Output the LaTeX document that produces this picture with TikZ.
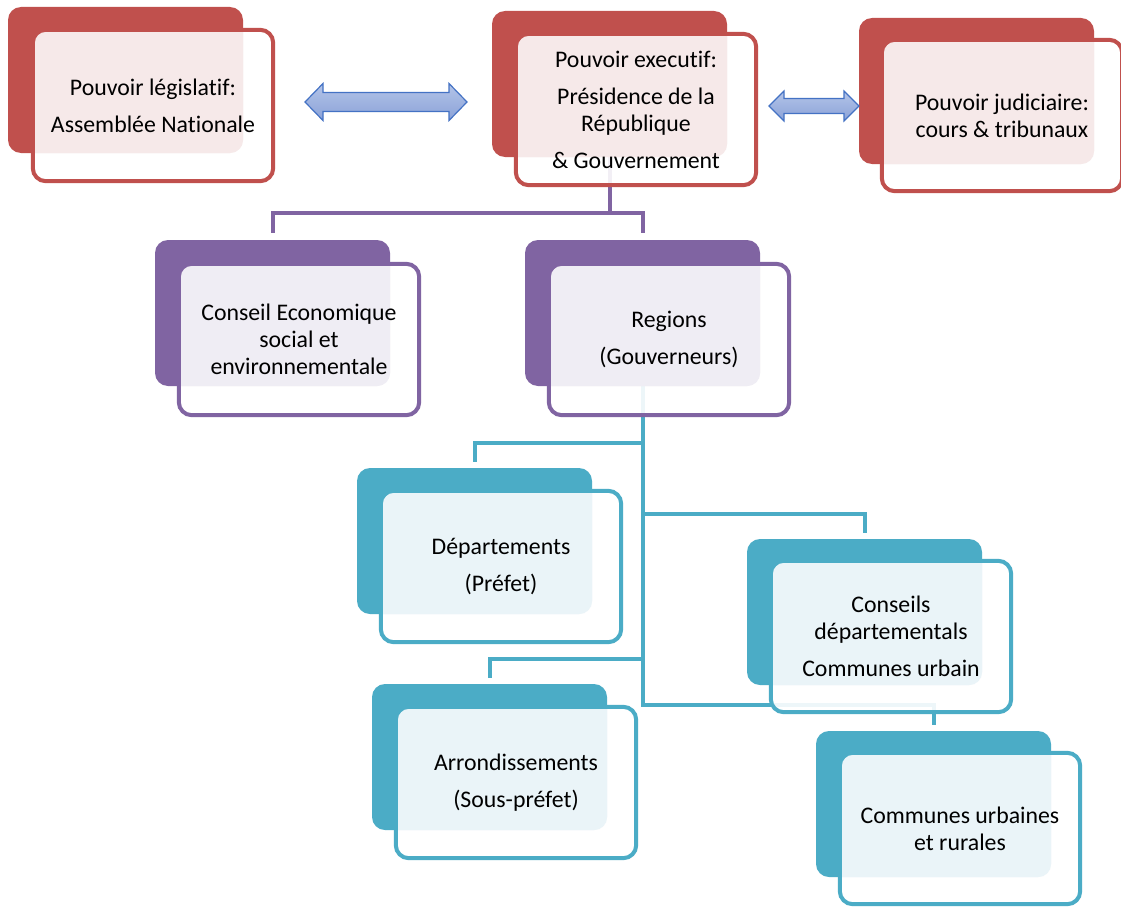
\documentclass[tikz,border=0pt]{standalone}
\usepackage{fontspec}
\setmainfont[Ligatures=NoCommon]{Carlito}
\usetikzlibrary{backgrounds}
\definecolor{cred}{HTML}{C0504D}
\definecolor{tred}{HTML}{F6E9E9}
\definecolor{cpur}{HTML}{8064A2}
\definecolor{tpur}{HTML}{EFEDF4}
\definecolor{ctea}{HTML}{4BACC6}
\definecolor{ttea}{HTML}{EAF4F8}
\definecolor{aline}{HTML}{4472C4}
\definecolor{atop}{HTML}{B3C4E8}
\definecolor{abot}{HTML}{8BA2D8}
\tikzset{
  backbox/.style={minimum width=235pt, minimum height=146pt, inner sep=0pt, rounded corners=13pt},
  frontbox/.style={minimum width=240pt, minimum height=151pt, inner sep=0pt, rounded corners=13pt, fill=white, fill opacity=0.9},
  txt/.style={align=center, inner sep=0pt, font=\fontsize{23.8}{27}\selectfont},
  pline/.style={draw=cpur, line width=4pt},
  tline/.style={draw=ctea, line width=4pt},
  dblarrow/.style={draw=aline, line width=1.2pt, top color=atop, bottom color=abot}
}
\newcommand\orgbox[8]{%
  \node[backbox, fill=#2] (#1B) at ({#4+117.5},{#5+73}) {};
  \node[frontbox] (#1F) at ({#6+122},{#7+77.5}) {};
  \begin{scope}
    \clip[rounded corners=12pt] ({#6+4},{#7+4}) rectangle ({#6+240},{#7+151});
    \fill[#3, rounded corners=13pt] (#4,#5) rectangle ({#4+235},{#5+146});
  \end{scope}
  \draw[line width=4pt, draw=#2, rounded corners=13pt] (#1F.south west) rectangle (#1F.north east);
  \node[txt] (#1T) at (#1F.center) {#8};
}
\begin{document}
\begin{tikzpicture}[x=1pt, y=-1pt]
\useasboundingbox (0,0) rectangle (1121,907);

\orgbox{leg}{cred}{tred}{8}{7}{31}{28}{Pouvoir législatif:\\[10pt]Assemblée Nationale}
\orgbox{exe}{cred}{tred}{492}{11}{514}{32}{Pouvoir executif:\\[10pt]Présidence de la\\République\\[10pt]\& Gouvernement}
\orgbox{jud}{cred}{tred}{859}{18}{880}{38}{Pouvoir judiciaire:\\cours \& tribunaux}
\orgbox{ces}{cpur}{tpur}{155}{240}{177}{262}{Conseil Economique\\social et\\environnementale}
\orgbox{reg}{cpur}{tpur}{525}{240}{547}{262}{Regions\\[10pt](Gouverneurs)}
\orgbox{dep}{ctea}{ttea}{357}{468}{379}{489}{Départements\\[10pt](Préfet)}
\orgbox{cde}{ctea}{ttea}{747}{539}{769}{559}{Conseils\\départementals\\[10pt]Communes urbain}
\orgbox{arr}{ctea}{ttea}{372}{684}{394}{705}{Arrondissements\\[10pt](Sous-préfet)}
\orgbox{com}{ctea}{ttea}{816}{731}{838}{751}{Communes urbaines\\et rurales}

% double arrows
\path[dblarrow] (305,102) -- (323,83.5) -- (323,92.5) -- (449,92.5) -- (449,83.5) -- (467,102)
  -- (449,120.5) -- (449,111.5) -- (323,111.5) -- (323,120.5) -- cycle;
\path[dblarrow] (769,106) -- (784,91) -- (784,98.5) -- (844,98.5) -- (844,91) -- (859,106)
  -- (844,121) -- (844,113.5) -- (784,113.5) -- (784,121) -- cycle;

\begin{scope}[on background layer]
  \fill[white] (0,0) rectangle (1121,907);
  \coordinate (busP) at (0,213);
  \coordinate (busA) at (0,443);
  \coordinate (busB) at (0,514);
  \coordinate (busC) at (0,659);
  \coordinate (busD) at (0,705);
  \draw[pline] (exeB.south) -- (exeB.south|-busP);
  \draw[pline, shorten <=7pt, shorten >=7pt] (cesB.north) -- (cesB.north|-busP) -- (regB.north|-busP) -- (regB.north);
  \draw[tline, shorten >=6pt] (regB.south) -- (regB.south|-busD) -| (comB.north);
  \draw[tline, shorten >=6pt] (regB.south|-busA) -| (depB.north);
  \draw[tline, shorten >=6pt] (regB.south|-busB) -| (cdeB.north);
  \draw[tline, shorten >=6pt] (regB.south|-busC) -| (arrB.north);
\end{scope}
\end{tikzpicture}
\end{document}
